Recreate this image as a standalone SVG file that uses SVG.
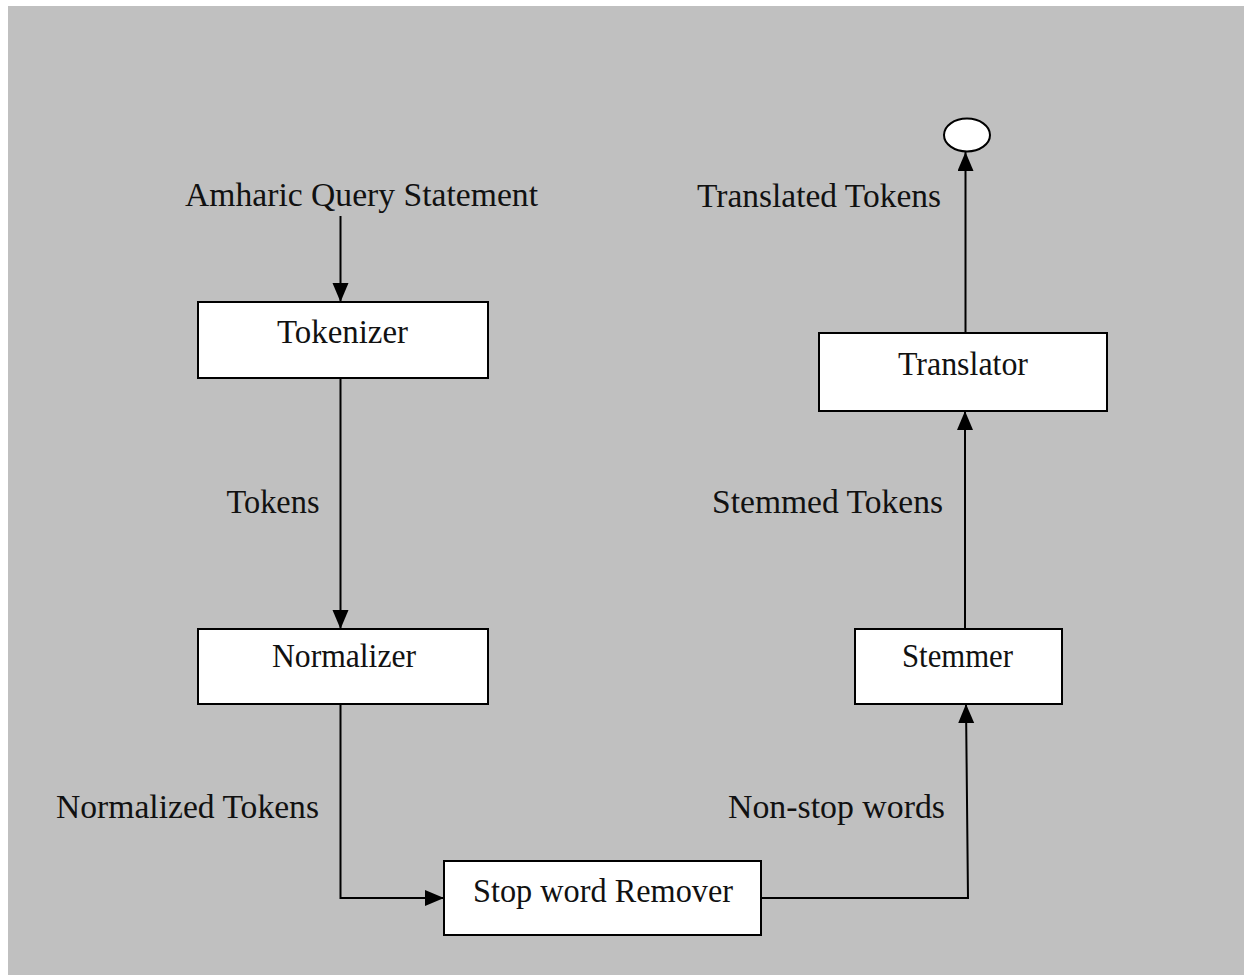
<svg xmlns="http://www.w3.org/2000/svg" width="1244" height="975" viewBox="0 0 1244 975">
<style>
  .bg { fill: #c0c0c0; }
  .box { fill: #ffffff; stroke: #000000; stroke-width: 2; }
  .lbl { font-family: "Liberation Serif", "Times New Roman", serif; font-size: 34.5px; fill: #111111; }
  .conn { fill: none; stroke: #000000; stroke-width: 2; }
</style>
<defs>
  <marker id="arrow" markerUnits="userSpaceOnUse" markerWidth="20" markerHeight="18" refX="19" refY="8" orient="auto">
    <path d="M0,0 L19,8 L0,16 z" fill="#000000"/>
  </marker>
</defs>
<rect x="0" y="0" width="1244" height="975" fill="#ffffff"/>
<rect class="bg" x="8" y="6" width="1236" height="969"/>

<g id="connectors">
  <line class="conn" x1="340.5" y1="216" x2="340.5" y2="302" marker-end="url(#arrow)"/>
  <line class="conn" x1="340.5" y1="378" x2="340.5" y2="629" marker-end="url(#arrow)"/>
  <path class="conn" d="M340.5,704 V898 H444" marker-end="url(#arrow)"/>
  <path class="conn" d="M761,898 H968 L966,704" marker-end="url(#arrow)"/>
  <line class="conn" x1="965" y1="629" x2="965" y2="411" marker-end="url(#arrow)"/>
  <line class="conn" x1="965.5" y1="333" x2="965.5" y2="152" marker-end="url(#arrow)"/>
</g>

<g id="query-label">
  <text class="lbl" x="185" y="206" textLength="353" lengthAdjust="spacingAndGlyphs">Amharic Query Statement</text>
</g>
<g id="tokenizer">
  <rect class="box" x="198" y="302" width="290" height="76"/>
  <text class="lbl" x="277" y="343" textLength="131" lengthAdjust="spacingAndGlyphs">Tokenizer</text>
</g>
<g id="tokens-label">
  <text class="lbl" x="226.5" y="513" textLength="93" lengthAdjust="spacingAndGlyphs">Tokens</text>
</g>
<g id="normalizer">
  <rect class="box" x="198" y="629" width="290" height="75"/>
  <text class="lbl" x="272" y="667" textLength="144" lengthAdjust="spacingAndGlyphs">Normalizer</text>
</g>
<g id="normalized-label">
  <text class="lbl" x="56" y="818" textLength="263" lengthAdjust="spacingAndGlyphs">Normalized Tokens</text>
</g>
<g id="stopword-remover">
  <rect class="box" x="444" y="861" width="317" height="74"/>
  <text class="lbl" x="473" y="901.5" textLength="260" lengthAdjust="spacingAndGlyphs">Stop word Remover</text>
</g>
<g id="nonstop-label">
  <text class="lbl" x="728" y="818" textLength="217" lengthAdjust="spacingAndGlyphs">Non-stop words</text>
</g>
<g id="stemmer">
  <rect class="box" x="855" y="629" width="207" height="75"/>
  <text class="lbl" x="902" y="667" textLength="111" lengthAdjust="spacingAndGlyphs">Stemmer</text>
</g>
<g id="stemmed-label">
  <text class="lbl" x="712" y="513" textLength="231" lengthAdjust="spacingAndGlyphs">Stemmed Tokens</text>
</g>
<g id="translator">
  <rect class="box" x="819" y="333" width="288" height="78"/>
  <text class="lbl" x="898" y="375" textLength="130" lengthAdjust="spacingAndGlyphs">Translator</text>
</g>
<g id="translated-label">
  <text class="lbl" x="697" y="206.5" textLength="244" lengthAdjust="spacingAndGlyphs">Translated Tokens</text>
</g>
<g id="end">
  <ellipse class="box" cx="967" cy="135" rx="23" ry="16.5"/>
</g>
</svg>
